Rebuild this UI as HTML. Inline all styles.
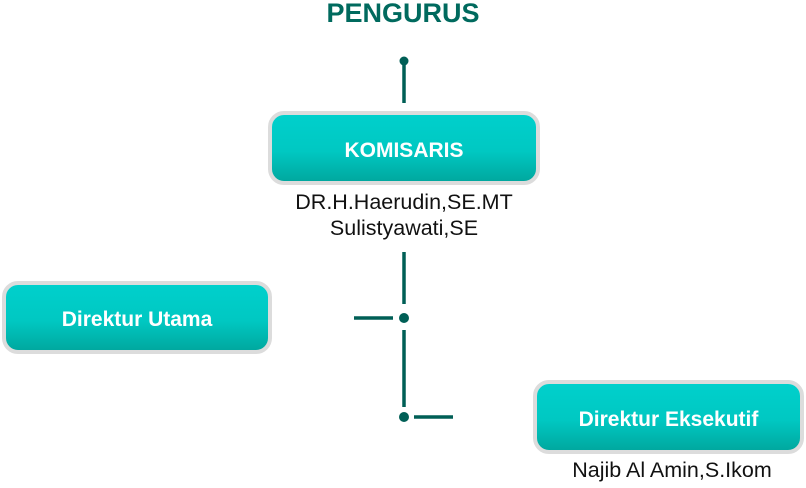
<!DOCTYPE html>
<html><head><style>
body{margin:0;width:806px;height:488px;background:#fff;position:relative;overflow:hidden;font-family:"Liberation Sans",sans-serif}
.box{position:absolute;box-sizing:border-box;border:4px solid #dcdcdc;border-radius:16px;background:linear-gradient(#00d0cc 0%,#00c8c2 55%,#00a89f 100%);color:#fff;font-weight:bold;font-size:21px;display:flex;align-items:center;justify-content:center;padding-top:5px}
.t{position:absolute;text-align:center;font-size:21.5px;color:#111;line-height:26px}
</style></head><body>
<div class="t" style="left:253px;top:-2px;width:300px;font-size:27px;font-weight:bold;color:#006a5e;line-height:30px">PENGURUS</div>
<svg width="806" height="488" style="position:absolute;left:0;top:0">
<g stroke="#005f56" stroke-width="3.5" fill="#005f56">
<line x1="404" y1="61" x2="404" y2="103"/><circle cx="404" cy="61" r="4.5" stroke="none"/>
<line x1="404" y1="252" x2="404" y2="304"/>
<line x1="354" y1="318" x2="393" y2="318"/><circle cx="404" cy="318" r="5" stroke="none"/>
<line x1="404" y1="330" x2="404" y2="407"/>
<circle cx="404" cy="417" r="5" stroke="none"/><line x1="414" y1="417" x2="453" y2="417"/>
</g></svg>
<div class="box" style="left:268px;top:111px;width:272px;height:74px">KOMISARIS</div>
<div class="t" style="left:254px;top:189px;width:300px">DR.H.Haerudin,SE.MT<br>Sulistyawati,SE</div>
<div class="box" style="left:2px;top:281px;width:270px;height:73px">Direktur Utama</div>
<div class="box" style="left:533px;top:380px;width:271px;height:74px">Direktur Eksekutif</div>
<div class="t" style="left:522px;top:457px;width:300px">Najib Al Amin,S.Ikom</div>
</body></html>
